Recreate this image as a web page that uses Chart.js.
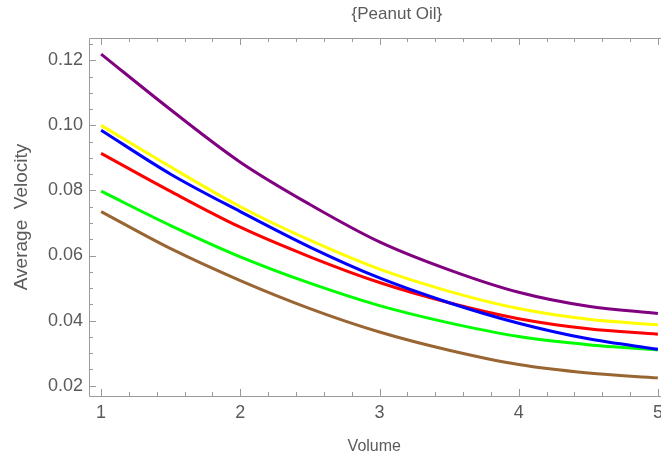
<!DOCTYPE html>
<html><head><meta charset="utf-8">
<script src="https://cdn.jsdelivr.net/npm/chart.js@4"></script>
<style>html,body{margin:0;padding:0;background:#fff;overflow:hidden;width:661px;height:459px}
#wrap{width:661px;height:459px;overflow:hidden;position:relative}canvas{display:block}</style>
</head><body>
<div id="wrap"><canvas id="c" width="672" height="459"></canvas></div>
<script>
const volumes = [1, 1.5, 2, 2.5, 3, 3.5, 4, 4.5, 5];
const purpleSeries = [0.1219, 0.1048, 0.0887, 0.0757, 0.0642, 0.0556, 0.0487, 0.0444, 0.0422];
const yellowSeries = [0.1000, 0.0872, 0.0750, 0.0647, 0.0558, 0.0490, 0.0437, 0.0404, 0.0387];
const blueSeries   = [0.0985, 0.0850, 0.0735, 0.0626, 0.0531, 0.0455, 0.0392, 0.0344, 0.0312];
const redSeries    = [0.0914, 0.0797, 0.0687, 0.0596, 0.0517, 0.0455, 0.0406, 0.0375, 0.0358];
const greenSeries  = [0.0798, 0.0692, 0.0596, 0.0515, 0.0446, 0.0393, 0.0351, 0.0326, 0.0310];
const brownSeries  = [0.0735, 0.0621, 0.0523, 0.0437, 0.0365, 0.0309, 0.0265, 0.0239, 0.0224];
const xTickValues = [1, 2, 3, 4, 5];
const xTickLabels = ['1', '2', '3', '4', '5'];
const yTickValues = [0.02, 0.04, 0.06, 0.08, 0.10, 0.12];
const yTickLabels = ['0.02', '0.04', '0.06', '0.08', '0.10', '0.12'];
const xMinorStep = 0.2;
const yMinorStep = 0.005;
const chartTitle = '{Peanut Oil}';
const xTitle = 'Volume';
const yTitle = 'Average  Velocity';

const FONT = "'Liberation Sans', Arial, sans-serif";
const TEXT = '#5a5a5a';
const FRAME = '#9a9a9a';

function pts(ys) { return volumes.map((x, i) => ({x: x, y: ys[i]})); }
function ds(ys, color) {
  return {data: pts(ys), borderColor: color, backgroundColor: color, borderWidth: 3,
    pointRadius: 0, showLine: true, fill: false, cubicInterpolationMode: 'monotone'};
}

const framePlugin = {
  id: 'frame',
  beforeDatasetsDraw(chart) {
    const {ctx, chartArea: a, scales: {x, y}} = chart;
    ctx.save();
    ctx.strokeStyle = FRAME;
    ctx.lineWidth = 1;
    ctx.beginPath();
    ctx.moveTo(a.left + 0.5, a.top + 0.5); ctx.lineTo(a.left + 0.5, a.bottom + 0.5);
    ctx.lineTo(a.right, a.bottom + 0.5);
    ctx.moveTo(a.left + 0.5, a.top + 0.5); ctx.lineTo(a.right, a.top + 0.5);
    const x0 = Math.ceil(x.min / xMinorStep - 1e-6);
    const x1 = Math.floor(x.max / xMinorStep + 1e-6);
    for (let k = x0; k <= x1; k++) {
      const v = k * xMinorStep;
      const major = xTickValues.some(t => Math.abs(t - v) < 1e-6);
      const len = major ? 7 : 4;
      const px = Math.round(x.getPixelForValue(v)) + 0.5;
      ctx.moveTo(px, a.bottom); ctx.lineTo(px, a.bottom - len);
      ctx.moveTo(px, a.top); ctx.lineTo(px, a.top + len);
    }
    const y0 = Math.ceil(y.min / yMinorStep - 1e-6);
    const y1 = Math.floor(y.max / yMinorStep + 1e-6);
    for (let k = y0; k <= y1; k++) {
      const v = k * yMinorStep;
      const major = yTickValues.some(t => Math.abs(t - v) < 1e-6);
      const len = major ? 7 : 4;
      const py = Math.round(y.getPixelForValue(v)) + 0.5;
      ctx.moveTo(a.left, py); ctx.lineTo(a.left + len, py);
    }
    ctx.stroke();
    ctx.restore();
  },
  afterDraw(chart) {
    const {ctx, chartArea: a} = chart;
    ctx.save();
    ctx.fillStyle = TEXT;
    ctx.font = '17px ' + FONT;
    ctx.textAlign = 'center';
    ctx.textBaseline = 'middle';
    ctx.fillText(chartTitle, a.left + (a.right - a.left) * 0.53, 14);
    ctx.font = '16px ' + FONT;
    ctx.fillText(xTitle, a.left + (a.right - a.left) * 0.491, 447);
    ctx.restore();
  }
};

new Chart(document.getElementById('c'), {
  type: 'scatter',
  data: {datasets: [
    ds(blueSeries, '#0000ff'),
    ds(greenSeries, '#00ff00'),
    ds(redSeries, '#ff0000'),
    ds(yellowSeries, '#ffff00'),
    ds(purpleSeries, '#800080'),
    ds(brownSeries, '#996633')
  ]},
  options: {
    responsive: false, animation: false, devicePixelRatio: 1,
    layout: {padding: {top: 38, right: 2, left: 0, bottom: 0}},
    plugins: {legend: {display: false}, tooltip: {enabled: false}, title: {display: false}},
    scales: {
      x: {
        type: 'linear', min: 0.913, max: 5.087,
        afterBuildTicks: s => { s.ticks = xTickValues.map(v => ({value: v})); },
        afterFit: s => { s.height = 63; },
        grid: {display: false, drawTicks: false, tickLength: 0}, border: {display: false},
        ticks: {padding: 6, color: TEXT, font: {family: FONT, size: 18},
          maxRotation: 0, autoSkip: false,
          callback: v => xTickLabels[xTickValues.findIndex(t => Math.abs(t - v) < 1e-9)]},
        title: {display: false}
      },
      y: {
        type: 'linear', min: 0.01683, max: 0.12685,
        afterBuildTicks: s => { s.ticks = yTickValues.map(v => ({value: v})); },
        afterFit: s => { s.width = 89; },
        grid: {display: false, drawTicks: false, tickLength: 0}, border: {display: false},
        ticks: {padding: 6, color: TEXT, font: {family: FONT, size: 18}, autoSkip: false,
          callback: v => yTickLabels[yTickValues.findIndex(t => Math.abs(t - v) < 1e-9)]},
        title: {display: true, text: yTitle, color: TEXT, font: {family: FONT, size: 19},
          padding: {top: 10, bottom: 0}}
      }
    }
  },
  plugins: [framePlugin]
});
</script>
</body></html>
